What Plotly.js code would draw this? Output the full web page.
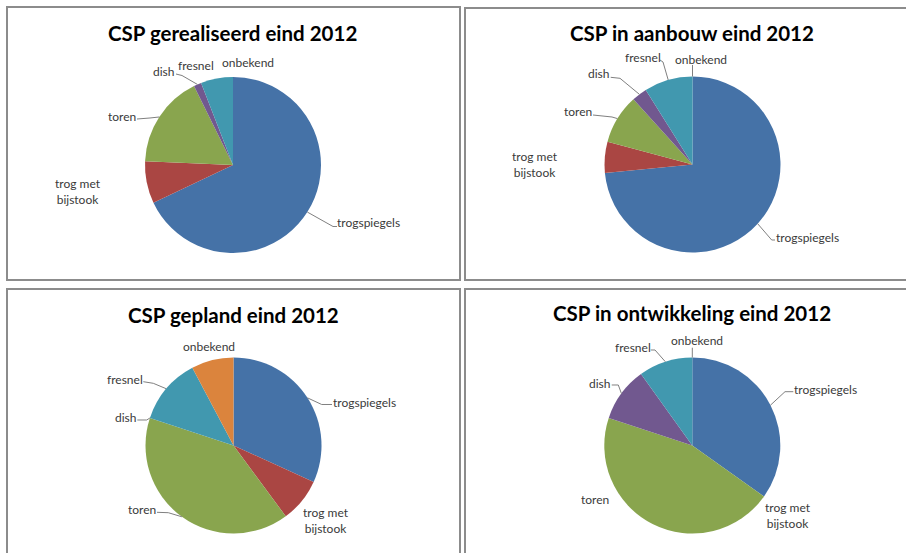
<!DOCTYPE html>
<html>
<head>
<meta charset="utf-8">
<script src="https://cdn.plot.ly/plotly-3.0.1.min.js"></script>
<style>html,body{margin:0;padding:0;background:#fff;}#chart{width:906px;height:553px;}</style>
</head>
<body>
<div id="chart"></div>
<script>
// ---- data ----
const categories = ['trogspiegels', 'trog met bijstook', 'toren', 'dish', 'fresnel', 'onbekend'];
const categoryText = ['trogspiegels', 'trog met<br>bijstook', 'toren', 'dish', 'fresnel', 'onbekend'];
const titles = ['CSP gerealiseerd eind 2012', 'CSP in aanbouw eind 2012', 'CSP gepland eind 2012', 'CSP in ontwikkeling eind 2012'];
const gerealiseerd = [67.9, 7.7, 17.0, 1.4, 5.9, 0];
const aanbouw = [73.4, 5.7, 9.1, 2.8, 8.9, 0];
const gepland = [31.8, 8.1, 40.2, 0, 12.2, 7.75];
const ontwikkeling = [34.8, 0, 45.2, 10.0, 9.9, 0];
const seriesValues = [gerealiseerd, aanbouw, gepland, ontwikkeling];

// ---- style / layout ----
const W = 906, H = 553;
const colors = ['#4572A7', '#AA4643', '#89A54E', '#71588F', '#4198AF', '#DB843D'];
const panels = [
  {box: [7, 7, 460, 280], cx: 233, cy: 165, r: 88, titleX: 233, titleY: 33,
   labels: [
     {x: 368, y: 222, lead: [[337, 226.5], [333, 226.5]]},
     {x: 78, y: 191},
     {x: 122, y: 117, lead: [[137, 119], [150, 118]]},
     {x: 164, y: 72, lead: [[176, 74], [182, 75.5]]},
     {x: 196, y: 66},
     {x: 248, y: 62}
   ]},
  {box: [465, 8, 912, 280], cx: 692.5, cy: 164.5, r: 88, titleX: 691.7, titleY: 33,
   labels: [
     {x: 807.5, y: 237, lead: [[775, 240], [771.7, 240]]},
     {x: 535, y: 165},
     {x: 577.5, y: 111, lead: [[593, 115], [612, 117]]},
     {x: 598.7, y: 74, lead: [[610.7, 77.3], [620, 78.3]]},
     {x: 643, y: 57, lead: [[660, 60], [663, 62]]},
     {x: 700.5, y: 59, lead: [[692.5, 65], [692.5, 66]]}
   ]},
  {box: [7, 289, 460, 560], cx: 233.5, cy: 445.5, r: 88, titleX: 233.3, titleY: 315,
   labels: [
     {x: 364, y: 402.3, lead: [[332, 404.5], [321.7, 404.5]]},
     {x: 326, y: 520},
     {x: 142, y: 509, lead: [[157, 512.3], [168.3, 512.7]]},
     {x: 126, y: 417.3, lead: [[137.3, 420], [146.7, 420]]},
     {x: 125, y: 379.3, lead: [[143.3, 381.7], [153.3, 383.3]]},
     {x: 209.3, y: 346.7}
   ]},
  {box: [465, 289, 912, 560], cx: 692.3, cy: 445.5, r: 88, titleX: 692.2, titleY: 313.3,
   labels: [
     {x: 825.8, y: 389.3, lead: [[793.3, 391.7], [785, 391.7]]},
     {x: 787.8, y: 515},
     {x: 594.5, y: 499.3},
     {x: 600, y: 383.3, lead: [[611.7, 385], [618.3, 385]]},
     {x: 632.8, y: 347.7, lead: [[650.7, 350], [655, 350]]},
     {x: 697, y: 340, lead: [[692.3, 347.7], [692.3, 348]]}
   ]}
];

const px = x => x / W;
const py = y => 1 - y / H;

const traces = [];
const annotations = [];
const shapes = [];

panels.forEach((p, k) => {
  const vals = seriesValues[k];
  shapes.push({type: 'rect', xref: 'paper', yref: 'paper',
    x0: px(p.box[0]), x1: px(p.box[2]), y0: py(p.box[3]), y1: py(p.box[1]),
    line: {color: '#8c8c8c', width: 2}, fillcolor: 'rgba(0,0,0,0)', layer: 'below'});
  traces.push({
    type: 'pie', labels: categories, values: vals, sort: false,
    direction: 'clockwise', rotation: 0, textinfo: 'none', hoverinfo: 'label+percent',
    marker: {colors: colors, line: {width: 0}},
    domain: {x: [px(p.cx - p.r), px(p.cx + p.r)], y: [py(p.cy + p.r), py(p.cy - p.r)]},
    showlegend: false
  });
  annotations.push({xref: 'paper', yref: 'paper', x: px(p.titleX), y: py(p.titleY),
    xanchor: 'center', yanchor: 'middle', showarrow: false, text: '<b>' + titles[k] + '</b>',
    font: {family: 'Lato, "Open Sans", sans-serif', size: 20.5, color: '#000'}});
  const total = vals.reduce((a, b) => a + b, 0);
  let cum = 0;
  vals.forEach((v, i) => {
    const mid = (cum + v / 2) / total * 2 * Math.PI;
    cum += v;
    const L = p.labels[i];
    annotations.push({xref: 'paper', yref: 'paper', x: px(L.x), y: py(L.y),
      xanchor: 'center', yanchor: 'middle', showarrow: false, text: categoryText[i],
      font: {family: 'Lato, "Open Sans", sans-serif', size: 12, color: '#3a3a3a'}});
    if (L.lead) {
      const ex = p.cx + p.r * Math.sin(mid);
      const ey = p.cy - p.r * Math.cos(mid);
      const pts = L.lead.concat([[ex, ey]]);
      const path = pts.map((q, j) => (j ? 'L' : 'M') + px(q[0]).toFixed(5) + ',' + py(q[1]).toFixed(5)).join(' ');
      shapes.push({type: 'path', xref: 'paper', yref: 'paper', path: path,
        line: {color: '#808080', width: 1}});
    }
  });
});

const layout = {
  width: W, height: H, margin: {l: 0, r: 0, t: 0, b: 0},
  paper_bgcolor: '#fff', plot_bgcolor: '#fff',
  showlegend: false, annotations: annotations, shapes: shapes
};
Plotly.newPlot('chart', traces, layout, {staticPlot: true, displayModeBar: false});
</script>
</body>
</html>
